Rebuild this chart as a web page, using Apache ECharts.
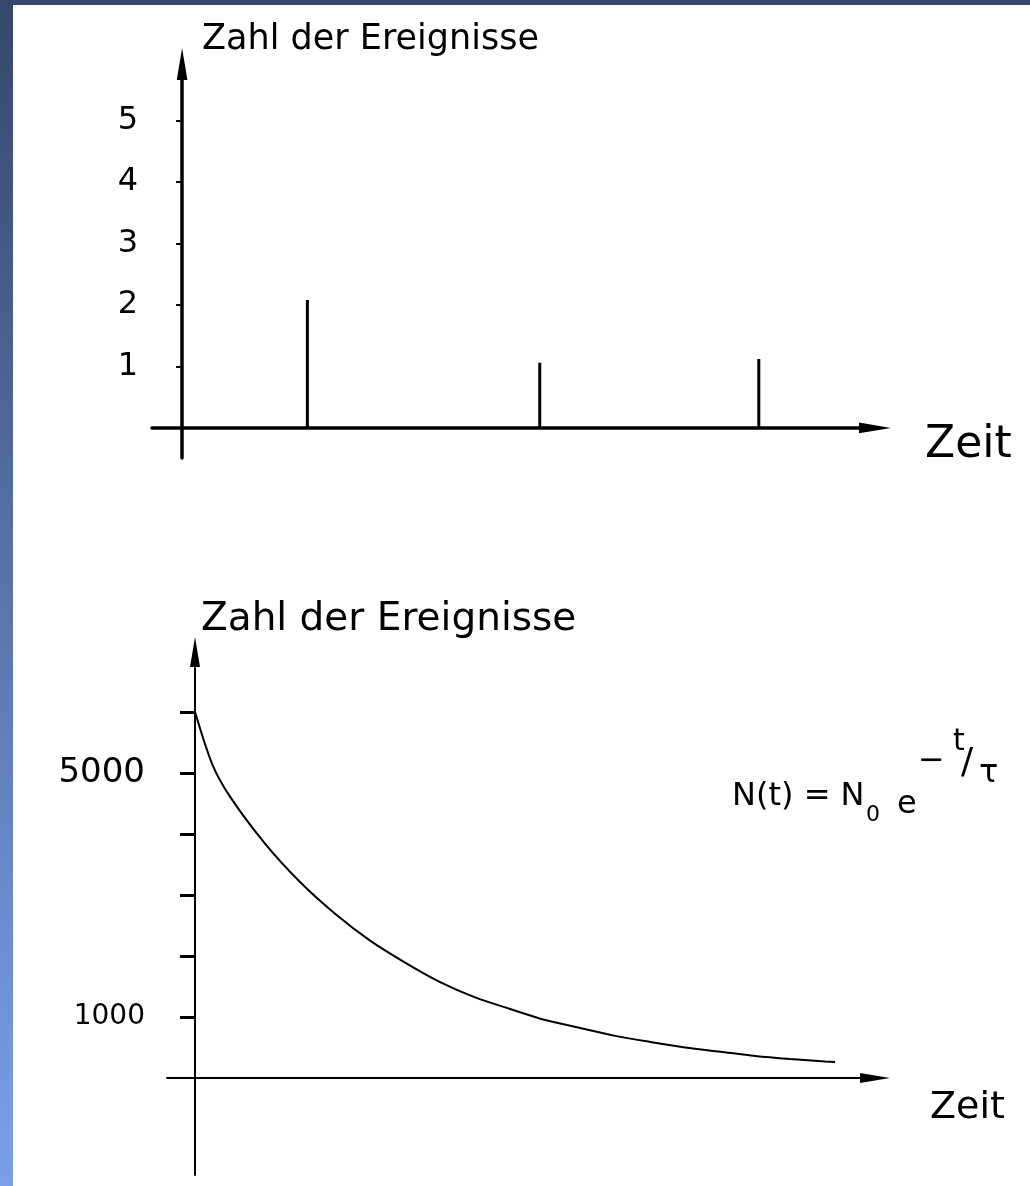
<!DOCTYPE html>
<html>
<head>
<meta charset="utf-8">
<script src="https://cdn.jsdelivr.net/npm/echarts@6/dist/echarts.min.js"></script>
<style>
html,body{margin:0;padding:0;background:#ffffff;}
#chart{width:1030px;height:1186px;}
</style>
</head>
<body>
<div id="chart"></div>
<script>
// ---------- data ----------
// upper chart: single events
const eventTimes  = [1.79, 5.11, 8.24];
const eventCounts = [2.08, 1.06, 1.12];
const eventTickValues = [1, 2, 3, 4, 5];

// lower chart: decay curve (read at regular time steps)
const decayTimes  = [0, 0.25, 0.5, 1, 1.5, 2, 2.5, 3, 3.5, 4, 4.5, 5, 5.5, 6, 6.5, 7, 7.5, 8, 8.5, 9, 9.14];
const decayCounts = [6000, 5130, 4610, 3840, 3210, 2690, 2250, 1890, 1570, 1320, 1130, 950, 820, 690, 590, 500, 430, 360, 310, 270, 260];
const decayTickValues  = [1000, 2000, 3000, 4000, 5000, 6000];
const decayLabelValues = [1000, 5000];

const yName = 'Zahl der Ereignisse';
const xName = 'Zeit';

// ---------- chart ----------
const FONT = 'DejaVu Sans';
const arrow = 'path://M5,0L10,30L0,30Z';
const chart = echarts.init(document.getElementById('chart'), null, {renderer: 'canvas'});

const option = {
  animation: false,
  backgroundColor: '#ffffff',
  grid: [
    {left: 152, top: 64, width: 723, height: 394, containLabel: false, outerBoundsMode: 'none'},
    {left: 167, top: 652, width: 708, height: 523, containLabel: false, outerBoundsMode: 'none'}
  ],
  xAxis: [
    {
      gridIndex: 0, type: 'value', min: -0.43, max: 9.9,
      axisLine: {show: true, onZero: true, lineStyle: {color: '#000', width: 3.5},
                 symbol: ['none', arrow], symbolSize: [15, 32]},
      axisTick: {show: false}, axisLabel: {show: false}, splitLine: {show: false},
      name: xName, nameLocation: 'end', nameGap: 50, nameMoveOverlap: false,
      nameTextStyle: {color: '#000', fontSize: 44, fontFamily: FONT, align: 'left',
                      verticalAlign: 'top', lineHeight: 36}
    },
    {
      gridIndex: 1, type: 'value', min: -0.4, max: 9.71,
      axisLine: {show: true, onZero: true, lineStyle: {color: '#000', width: 2},
                 symbol: ['none', arrow], symbolSize: [14, 30]},
      axisTick: {show: false}, axisLabel: {show: false}, splitLine: {show: false},
      name: xName, nameLocation: 'end', nameGap: 55, nameMoveOverlap: false,
      nameTextStyle: {color: '#000', fontSize: 38, fontFamily: FONT, align: 'left',
                      verticalAlign: 'top', lineHeight: 60}
    }
  ],
  yAxis: [
    {
      gridIndex: 0, type: 'value', min: -0.49, max: 5.92,
      axisLine: {show: true, onZero: true, lineStyle: {color: '#000', width: 3.5},
                 symbol: ['none', arrow], symbolSize: [15, 32]},
      axisTick: {show: true, customValues: eventTickValues, length: 6,
                 lineStyle: {color: '#000', width: 2}},
      axisLabel: {show: true, customValues: eventTickValues, margin: 14,
                  color: '#000', fontSize: 32, fontFamily: FONT},
      splitLine: {show: false},
      name: yName, nameLocation: 'end', nameGap: 24, nameMoveOverlap: false,
      nameTextStyle: {color: '#000', fontSize: 35, fontFamily: FONT, align: 'left',
                      verticalAlign: 'middle', padding: [0, 0, 0, 20]}
    },
    {
      gridIndex: 1, type: 'value', min: -1590, max: 6980,
      axisLine: {show: true, onZero: true, lineStyle: {color: '#000', width: 2},
                 symbol: ['none', arrow], symbolSize: [15, 30]},
      axisTick: {show: true, customValues: decayTickValues, length: 15,
                 lineStyle: {color: '#000', width: 3}},
      axisLabel: {show: true, customValues: decayLabelValues, margin: 22,
                  color: '#000', fontFamily: FONT,
                  formatter: v => (v >= 5000 ? '{b|' + v + '}' : '{s|' + v + '}'),
                  rich: {b: {fontSize: 34, fontFamily: FONT, color: '#000'},
                         s: {fontSize: 28, fontFamily: FONT, color: '#000'}}},
      splitLine: {show: false},
      name: yName, nameLocation: 'end', nameGap: 32, nameMoveOverlap: false,
      nameTextStyle: {color: '#000', fontSize: 39, fontFamily: FONT, align: 'left',
                      verticalAlign: 'middle', padding: [0, 0, 0, 6]}
    }
  ],
  series: [
    {
      type: 'bar', xAxisIndex: 0, yAxisIndex: 0, barWidth: 3, silent: true,
      itemStyle: {color: '#000'},
      data: eventTimes.map((t, i) => [t, eventCounts[i]])
    },
    {
      type: 'line', xAxisIndex: 1, yAxisIndex: 1, smooth: 0.3,
      symbol: 'none', silent: true,
      lineStyle: {color: '#000', width: 2},
      data: decayTimes.map((t, i) => [t, decayCounts[i]])
    }
  ],
  graphic: [
    {type: 'rect', z: -10, silent: true, shape: {x: 0, y: 0, width: 1030, height: 5},
     style: {fill: '#34486b'}},
    {type: 'rect', z: -10, silent: true, shape: {x: 0, y: 0, width: 13, height: 1186},
     style: {fill: {type: 'linear', x: 0, y: 0, x2: 0, y2: 1,
                    colorStops: [{offset: 0, color: '#34486b'}, {offset: 1, color: '#7ba0eb'}]}}},
    {type: 'text', x: 732, y: 797, silent: true,
     style: {text: 'N(t) = N', fontSize: 32, fontFamily: FONT, fill: '#000', verticalAlign: 'middle'}},
    {type: 'text', x: 866, y: 815, silent: true,
     style: {text: '0', fontSize: 22, fontFamily: FONT, fill: '#000', verticalAlign: 'middle'}},
    {type: 'text', x: 897, y: 805, silent: true,
     style: {text: 'e', fontSize: 32, fontFamily: FONT, fill: '#000', verticalAlign: 'middle'}},
    {type: 'text', x: 918, y: 762, silent: true,
     style: {text: '\u2212', fontSize: 32, fontFamily: FONT, fill: '#000', verticalAlign: 'middle'}},
    {type: 'text', x: 953, y: 742, silent: true,
     style: {text: 't', fontSize: 30, fontFamily: FONT, fill: '#000', verticalAlign: 'middle'}},
    {type: 'text', x: 961, y: 764, silent: true,
     style: {text: '/', fontSize: 36, fontFamily: FONT, fill: '#000', verticalAlign: 'middle'}},
    {type: 'text', x: 979, y: 774, silent: true,
     style: {text: '\u03c4', fontSize: 32, fontFamily: FONT, fill: '#000', verticalAlign: 'middle'}}
  ]
};
chart.setOption(option);
</script>
</body>
</html>
